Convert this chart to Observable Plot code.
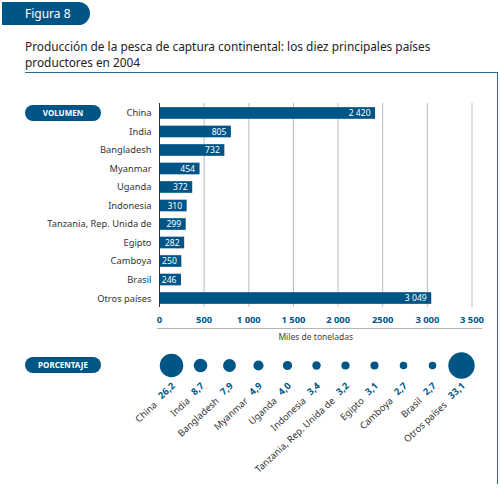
<!DOCTYPE html>
<html><head><meta charset="utf-8">
<script src="https://cdn.jsdelivr.net/npm/d3@7"></script>
<script src="https://cdn.jsdelivr.net/npm/@observablehq/plot@0.6"></script>
<style>
html,body{margin:0;padding:0;background:#fff}
#root{position:relative;width:500px;height:488px;overflow:hidden;font-family:"Noto Sans",sans-serif}
#root>div{position:absolute;box-sizing:border-box}
.pill{background:#005587;color:#fff;font-weight:700;font-size:8px;text-align:center;border-radius:8px;left:25px;width:76px;height:16px;line-height:16px}
</style></head><body><div id="root">
<div style="left:2px;top:2px;width:88px;height:23px;background:#005587;border-radius:0 12px 12px 0;color:#fff;font-size:12px;line-height:23px;padding-left:23px">Figura 8</div>
<div style="left:25px;top:37.5px;width:440px;font-size:11.85px;line-height:16.5px;color:#222">Producción de la pesca de captura continental: los diez principales países<br>productores en 2004</div>
<div style="left:25px;top:71.5px;width:473px;height:412px;border-top:1.5px solid #2a6f90;border-right:1.5px solid #2a6f90"></div>
<div class="pill" style="top:104.5px">VOLUMEN</div>
<div class="pill" style="top:357px">PORCENTAJE</div>
<div style="left:157px;top:328px;width:325px;height:1px;background:#b5b5b5"></div>
</div>
<script>
const paises = ["China","India","Bangladesh","Myanmar","Uganda","Indonesia","Tanzania, Rep. Unida de","Egipto","Camboya","Brasil","Otros países"];
const volumen = [2420,805,732,454,372,310,299,282,250,246,3049];
const etiquetasVolumen = ["2 420","805","732","454","372","310","299","282","250","246","3 049"];
const porcentaje = [26.2,8.7,7.9,4.9,4.0,3.4,3.2,3.1,2.7,2.7,33.1];
const etiquetasPorcentaje = ["26,2","8,7","7,9","4,9","4,0","3,4","3,2","3,1","2,7","2,7","33,1"];
const ticks = [0,500,1000,1500,2000,2500,3000,3500];
const etiquetasTicks = ["0","500","1 000","1 500","2 000","2500","3 000","3 500"];
const azul = "#005587", texto = "#333";
const filas = paises.map((p,i)=>({p,v:volumen[i],l:etiquetasVolumen[i],pc:porcentaje[i],lp:etiquetasPorcentaje[i]}));
const fuente = '"Noto Sans",sans-serif';
const abs = {position:"absolute",left:"0",top:"0",background:"transparent",fontFamily:fuente};

const barras = Plot.plot({
  width:500,height:488,marginLeft:159,marginRight:28.5,marginTop:103,marginBottom:181,
  style:abs,
  x:{domain:[0,3500],range:[159,471.5]},
  y:{domain:paises,range:[100.3,310.7],padding:0.37,round:false},
  marks:[
    Plot.ruleX(ticks.slice(1),{stroke:"#bdbdbd",strokeWidth:1}),
    Plot.barX(filas,{x:"v",y:"p",fill:azul}),
    Plot.ruleX([0],{stroke:"#333",strokeWidth:1}),
    Plot.text(filas,{x:"v",y:"p",text:"l",fill:"#fff",textAnchor:"end",dx:-5,fontSize:8.6}),
    Plot.axisY({anchor:"left",tickSize:0,tickPadding:8,label:null,fontSize:9.3,fill:texto}),
    Plot.axisX({anchor:"bottom",ticks,tickSize:0,tickPadding:9,label:null,fontSize:9.4,fontWeight:700,fill:azul,
      tickFormat:d=>etiquetasTicks[ticks.indexOf(d)]}),
    Plot.text(["Miles de toneladas"],{frameAnchor:"bottom",dy:32,fontSize:8.5,fill:"#444"})
  ]
});

const ang = -43;
const puntos = Plot.plot({
  width:500,height:488,marginTop:344,marginBottom:102,marginLeft:0,marginRight:0,
  style:abs,
  x:{type:"point",domain:paises,range:[170,462],padding:0,axis:null},
  r:{type:"sqrt",domain:[0,33.1],range:[0,13.2]},
  marks:[
    Plot.dot(filas,{x:"p",r:"pc",fill:azul}),
    Plot.text(filas,{x:"p",text:"lp",rotate:ang,textAnchor:"end",fill:azul,fontWeight:700,fontSize:9.4,dx:2,dy:19,lineAnchor:"middle"}),
    Plot.text(filas.filter(d=>d.lp.length===3),{x:"p",text:"p",rotate:ang,textAnchor:"end",fill:texto,fontSize:9.4,lineAnchor:"middle",dx:-12,dy:34}),
    Plot.text(filas.filter(d=>d.lp.length===4),{x:"p",text:"p",rotate:ang,textAnchor:"end",fill:texto,fontSize:9.4,lineAnchor:"middle",dx:-16,dy:38})
  ]
});
document.getElementById("root").append(barras,puntos);
</script></body></html>
